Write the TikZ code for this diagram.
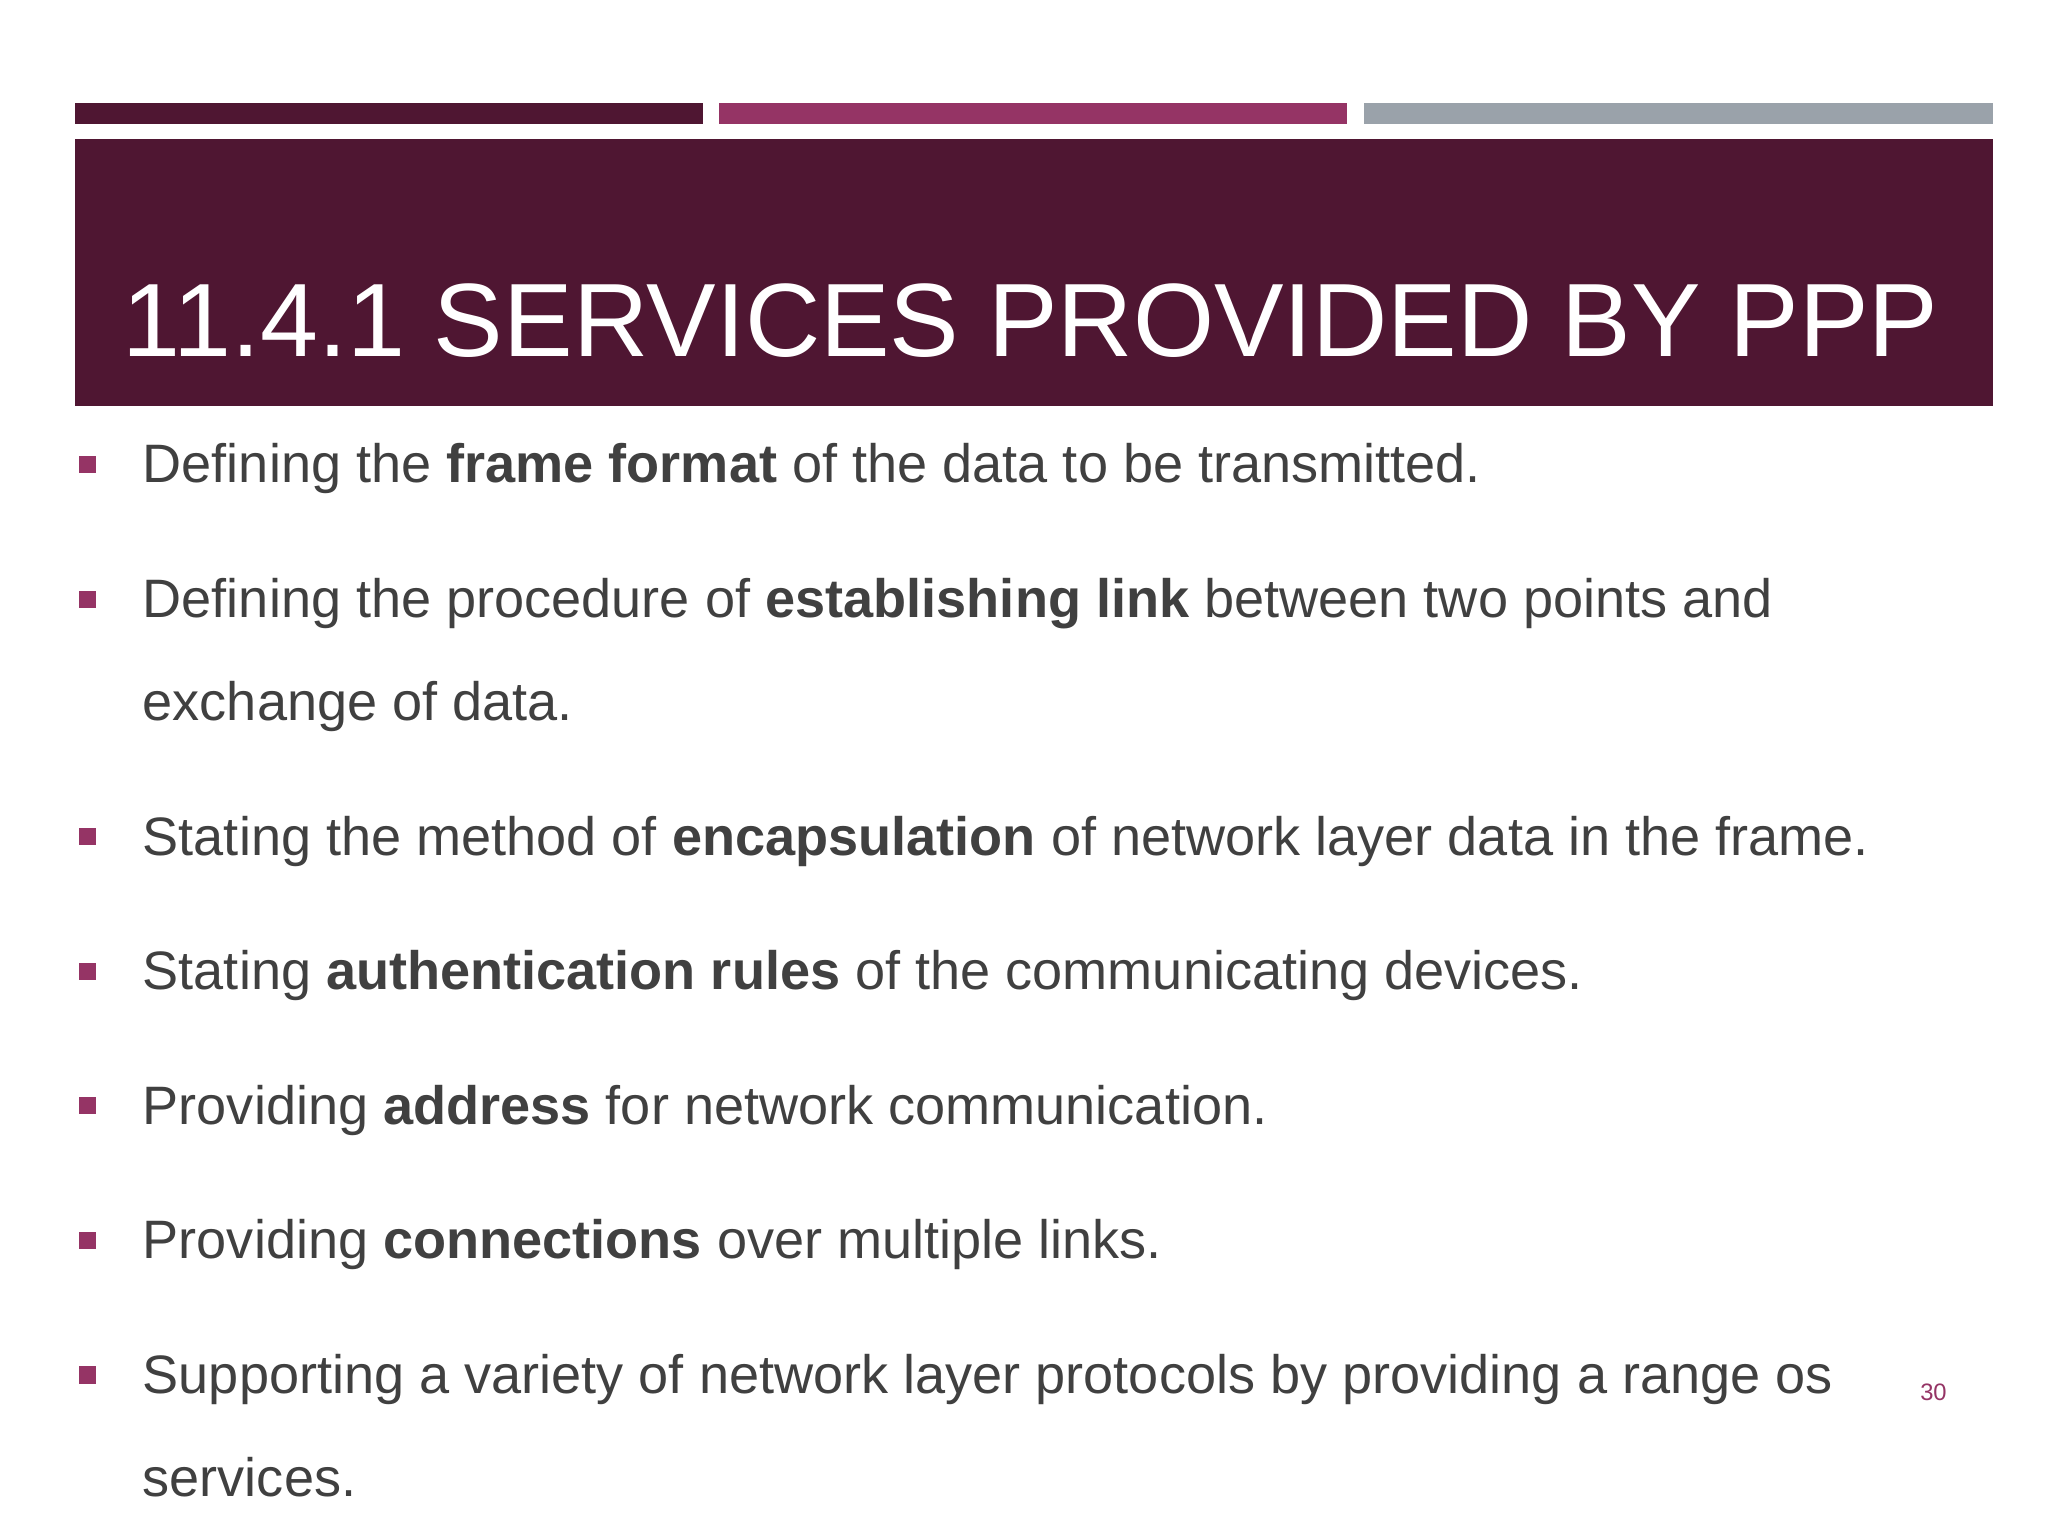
\documentclass[tikz,border=0pt]{standalone}
\usepackage{fontspec}
\setmainfont{Liberation Sans}
\definecolor{dk}{HTML}{4F1632}
\definecolor{mg}{HTML}{953465}
\definecolor{gr}{HTML}{9AA2AA}
\definecolor{tx}{HTML}{404040}
\begin{document}
\begin{tikzpicture}[x=1pt,y=-1pt,
  bl/.style={anchor=base west,inner sep=0pt,text=tx,font=\fontsize{41}{41}\selectfont},
  sq/.style={fill=mg,minimum size=13pt,inner sep=0pt}]
\useasboundingbox[fill=white] (0,0) rectangle (1552,1164);
\fill[dk] (57,78) rectangle (533,94);
\fill[mg] (545,78) rectangle (1021,94);
\fill[gr] (1034,78) rectangle (1510,94);
\fill[dk] (57,105) rectangle (1510,308);
\node[anchor=base west,inner sep=0pt,text=white,font=\fontsize{79}{79}\selectfont] (title) at (93,270) {11.4.1 SERVICES PROVIDED BY PPP};
\foreach \y in {352,454,634,736,838,940,1042} \node[sq] at (66,\y) {};
\node[bl] (b1) at (108,366) {Defining the \textbf{frame format} of the data to be transmitted.};
\node[bl] (b2) at (108,468) {Defining the procedure of \textbf{establishing link} between two points and};
\node[bl] (b2b) at (108,546) {exchange of data.};
\node[bl] (b3) at (108,648) {Stating the method of \textbf{encapsulation} of network layer data in the frame.};
\node[bl] (b4) at (108,750) {Stating \textbf{authentication rules} of the communicating devices.};
\node[bl] (b5) at (108,852) {Providing \textbf{address} for network communication.};
\node[bl] (b6) at (108,954) {Providing \textbf{connections} over multiple links.};
\node[bl] (b7) at (108,1056) {Supporting a variety of network layer protocols by providing a range os};
\node[bl] (b7b) at (108,1134) {services.};
\node[anchor=base west,inner sep=0pt,text=mg,font=\fontsize{18}{18}\selectfont] (pg) at (1455,1061) {30};
\end{tikzpicture}
\end{document}
